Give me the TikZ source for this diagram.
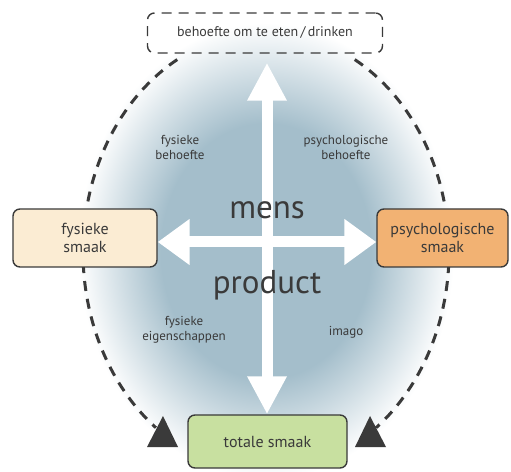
\documentclass[tikz,border=0pt]{standalone}
\usepackage{fontspec}
\setmainfont{PT Sans}
\usetikzlibrary{arrows.meta}
\definecolor{mist}{RGB}{164,190,203}
\definecolor{ink}{RGB}{58,58,58}
\definecolor{cream}{RGB}{251,236,211}
\definecolor{peach}{RGB}{242,178,115}
\definecolor{sage}{RGB}{200,224,160}
\pgfdeclareradialshading{haze}{\pgfpoint{0bp}{0bp}}{color(0bp)=(mist); color(14bp)=(mist); color(19bp)=(mist!55!white); color(25bp)=(white); color(50bp)=(white)}
\begin{document}
\begin{tikzpicture}[x=1pt, y=1pt, font=\fontsize{16}{18}\selectfont, line join=round, text=ink,
		box/.style={draw=ink, line width=1.4pt, rounded corners=7pt, align=center, inner sep=0pt},
		note/.style={font=\fontsize{13}{15}\selectfont, align=center},
		big/.style={font=\fontsize{33}{36}\selectfont},
		loop/.style={draw=ink, line width=3pt, dash pattern=on 10pt off 8pt},
		wide/.style={white, line width=11pt, {Triangle[width=44pt,length=32pt]}-{Triangle[width=44pt,length=32pt]}},
		tall/.style={white, line width=11pt, {Triangle[width=37pt,length=38pt]}-{Triangle[width=37pt,length=38pt]}}]
	\useasboundingbox (0,0) rectangle (511,471);
	\shade[shading=haze] (266,220) ellipse (188 and 228);
	% dashed loop round the whole
	\coordinate (o) at (266,219);
	\draw[loop] (o) ++(119:183 and 220) arc[start angle=119, end angle=233, x radius=183, y radius=220];
	\draw[loop] (o) ++(61:183 and 220) arc[start angle=61, end angle=-53, x radius=183, y radius=220];
	\fill[ink] (147,24) -- (163,55) -- (178,24) -- cycle;
	\fill[ink] (355,24) -- (370,55) -- (386,24) -- cycle;
	% boxes
	\node[box, dash pattern=on 10pt off 7pt, minimum width=235pt, minimum height=40pt, font=\fontsize{14}{16}\selectfont] (need) at (265,438) {behoefte om te eten\,/\,drinken};
	\node[box, fill=cream, minimum width=144pt, minimum height=58pt] (phys) at (85,233) {fysieke\\smaak};
	\node[box, fill=peach, minimum width=131pt, minimum height=58pt] (psych) at (442.5,233) {psychologische\\smaak};
	\node[box, fill=sage, minimum width=159pt, minimum height=53pt] (total) at (267.5,29.5) {totale smaak};
	% cross
	\coordinate (c) at (267,229);
	\draw[wide] (phys.east |- c) -- (psych.west |- c);
	\draw[tall, shorten <=9pt] (need.south -| c) -- (total.north -| c);
	% labels
	\node[big] (man) at (267,261) {mens};
	\node[big] (prod) at (267,186) {product};
	\node[note] (pneed) at (180,324) {fysieke\\behoefte};
	\node[note] (sneed) at (346,324) {psychologische\\behoefte};
	\node[note] (prop) at (184,141) {fysieke\\eigenschappen};
	\node[note] (img) at (346,139) {imago};
\end{tikzpicture}
\end{document}
